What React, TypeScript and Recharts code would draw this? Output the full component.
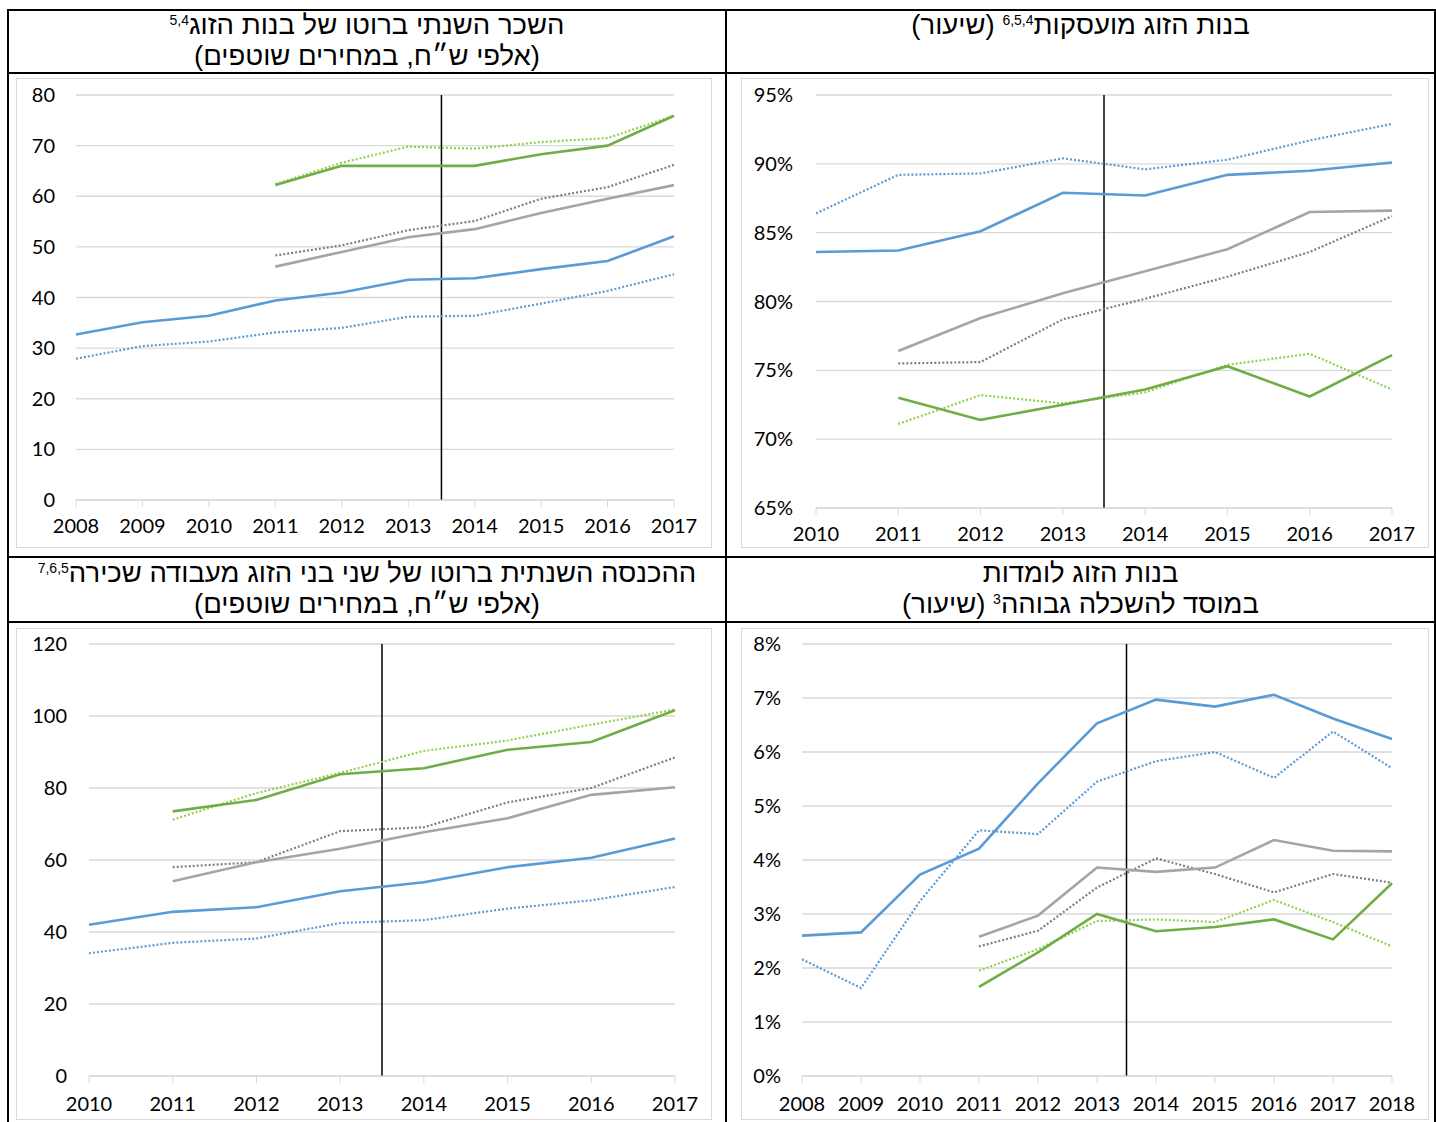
import React from 'react';
import { LineChart, Line, XAxis, YAxis, CartesianGrid, ReferenceLine } from 'recharts';

// colours
const BLUE = '#5B9BD5';
const GREY = '#A5A5A5';
const GREY_DOT = '#7F7F7F';
const GREEN = '#70AD47';
const GREEN_DOT = '#92D050';
const GRID = '#D9D9D9';

// chart 1 – annual gross wage of the wives
const wageYears = [2008, 2009, 2010, 2011, 2012, 2013, 2014, 2015, 2016, 2017];
const wageBlue = [32.7, 35.1, 36.4, 39.4, 41.0, 43.5, 43.8, 45.6, 47.2, 52.1];
const wageBlueDot = [27.9, 30.4, 31.3, 33.1, 34.0, 36.2, 36.4, 38.8, 41.3, 44.6];
const wageGrey = [null, null, null, 46.1, 49.0, 51.9, 53.5, 56.7, 59.5, 62.2];
const wageGreyDot = [null, null, null, 48.3, 50.3, 53.3, 55.1, 59.5, 61.8, 66.2];
const wageGreen = [null, null, null, 62.2, 66.0, 66.0, 66.0, 68.3, 70.0, 75.9];
const wageGreenDot = [null, null, null, 62.4, 66.6, 69.8, 69.4, 70.7, 71.5, 75.9];
const wageTicks = [0, 10, 20, 30, 40, 50, 60, 70, 80];

// chart 2 – employed wives (rate)
const empYears = [2010, 2011, 2012, 2013, 2014, 2015, 2016, 2017];
const empBlue = [83.6, 83.7, 85.1, 87.9, 87.7, 89.2, 89.5, 90.1];
const empBlueDot = [86.4, 89.2, 89.3, 90.4, 89.6, 90.3, 91.7, 92.9];
const empGrey = [null, 76.4, 78.8, 80.6, 82.2, 83.8, 86.5, 86.6];
const empGreyDot = [null, 75.5, 75.6, 78.7, 80.2, 81.8, 83.6, 86.2];
const empGreen = [null, 73.0, 71.4, 72.5, 73.6, 75.3, 73.1, 76.1];
const empGreenDot = [null, 71.1, 73.2, 72.6, 73.4, 75.4, 76.2, 73.6];
const empTicks = [65, 70, 75, 80, 85, 90, 95];

// chart 3 – household income from wages
const incYears = [2010, 2011, 2012, 2013, 2014, 2015, 2016, 2017];
const incBlue = [42.0, 45.6, 46.9, 51.3, 53.8, 58.0, 60.6, 66.0];
const incBlueDot = [34.1, 37.0, 38.2, 42.5, 43.3, 46.5, 48.8, 52.5];
const incGrey = [null, 54.1, 59.4, 63.1, 67.7, 71.6, 78.1, 80.2];
const incGreyDot = [null, 58.0, 59.4, 68.0, 69.1, 76.0, 80.0, 88.5];
const incGreen = [null, 73.5, 76.7, 83.8, 85.5, 90.6, 92.8, 101.6];
const incGreenDot = [null, 71.2, 78.6, 84.2, 90.3, 93.2, 97.6, 101.8];
const incTicks = [0, 20, 40, 60, 80, 100, 120];

// chart 4 – wives studying in higher education (rate)
const stuYears = [2008, 2009, 2010, 2011, 2012, 2013, 2014, 2015, 2016, 2017, 2018];
const stuBlue = [2.6, 2.66, 3.73, 4.21, 5.42, 6.53, 6.97, 6.84, 7.06, 6.62, 6.24];
const stuBlueDot = [2.16, 1.63, 3.24, 4.55, 4.48, 5.45, 5.83, 6.0, 5.52, 6.38, 5.7];
const stuGrey = [null, null, null, 2.58, 2.97, 3.86, 3.78, 3.86, 4.37, 4.17, 4.16];
const stuGreyDot = [null, null, null, 2.4, 2.69, 3.49, 4.03, 3.74, 3.4, 3.74, 3.58];
const stuGreen = [null, null, null, 1.65, 2.29, 3.0, 2.68, 2.76, 2.9, 2.53, 3.57];
const stuGreenDot = [null, null, null, 1.95, 2.35, 2.87, 2.9, 2.85, 3.26, 2.85, 2.4];
const stuTicks = [0, 1, 2, 3, 4, 5, 6, 7, 8];

const buildRows = (years: number[], cols: (number | null)[][]) =>
  years.map((year, i) => ({
    year,
    blue: cols[0][i],
    blueDot: cols[1][i],
    grey: cols[2][i],
    greyDot: cols[3][i],
    green: cols[4][i],
    greenDot: cols[5][i],
  }));

const SERIES = [
  { key: 'blueDot', color: BLUE, dotted: true },
  { key: 'blue', color: BLUE, dotted: false },
  { key: 'greyDot', color: GREY_DOT, dotted: true },
  { key: 'grey', color: GREY, dotted: false },
  { key: 'greenDot', color: GREEN_DOT, dotted: true },
  { key: 'green', color: GREEN, dotted: false },
];

const TICK_FONT = { fill: '#000', fontSize: 20, fontFamily: 'Lato, "Open Sans", sans-serif' };

interface PanelProps {
  left: number;
  top: number;
  width: number;
  height: number;
  plot: { left: number; top: number; right: number; bottom: number };
  yGap: number;
  xGap: number;
  data: any[];
  years: number[];
  yTicks: number[];
  unit?: string;
}

function Panel({ left, top, width, height, plot, yGap, xGap, data, years, yTicks, unit = '' }: PanelProps) {
  return (
    <div style={{ position: 'absolute', left, top, width, height }}>
      <div
        style={{
          position: 'absolute',
          inset: 0,
          border: `1px solid ${GRID}`,
          boxSizing: 'border-box',
        }}
      />
      <LineChart
        width={width}
        height={height}
        data={data}
        margin={{ top: plot.top, right: plot.right, bottom: 0, left: 0 }}
      >
        <CartesianGrid vertical={false} stroke={GRID} strokeWidth={1.3} />
        <XAxis
          type="number"
          dataKey="year"
          domain={[years[0], years[years.length - 1]]}
          ticks={years}
          interval={0}
          height={plot.bottom}
          stroke={GRID}
          tickSize={7}
          tickMargin={xGap}
          tick={TICK_FONT}
        />
        <YAxis
          type="number"
          domain={[yTicks[0], yTicks[yTicks.length - 1]]}
          ticks={yTicks}
          width={plot.left}
          axisLine={false}
          tickLine={false}
          tickSize={0}
          tickMargin={yGap}
          tick={TICK_FONT}
          tickFormatter={(v) => `${v}${unit}`}
        />
        <ReferenceLine x={2013.5} stroke="#000" strokeWidth={1.5} />
        {SERIES.map((s) => (
          <Line
            key={s.key}
            type="linear"
            dataKey={s.key}
            stroke={s.color}
            strokeWidth={s.dotted ? 2.2 : 2.6}
            strokeDasharray={s.dotted ? '2 2' : undefined}
            dot={false}
            activeDot={false}
            connectNulls={false}
            isAnimationActive={false}
          />
        ))}
      </LineChart>
    </div>
  );
}

const HEAD_FONT = '"Liberation Sans", Arial, sans-serif';
const supStyle: React.CSSProperties = { fontSize: 14, verticalAlign: 'top', lineHeight: '22px' };

function Header({ left, top, width, lines }: { left: number; top: number; width: number; lines: React.ReactNode[] }) {
  return (
    <div
      style={{
        position: 'absolute',
        left,
        top,
        width,
        direction: 'rtl',
        textAlign: 'center',
        fontFamily: HEAD_FONT,
        fontSize: 27.5,
        lineHeight: '31px',
        color: '#000',
        whiteSpace: 'nowrap',
      }}
    >
      {lines.map((l, i) => (
        <div key={i}>{l}</div>
      ))}
    </div>
  );
}

function Rule({ x, y, w, h }: { x: number; y: number; w: number; h: number }) {
  return <div style={{ position: 'absolute', left: x, top: y, width: w, height: h, background: '#000' }} />;
}

export default function App() {
  const wageData = buildRows(wageYears, [wageBlue, wageBlueDot, wageGrey, wageGreyDot, wageGreen, wageGreenDot]);
  const empData = buildRows(empYears, [empBlue, empBlueDot, empGrey, empGreyDot, empGreen, empGreenDot]);
  const incData = buildRows(incYears, [incBlue, incBlueDot, incGrey, incGreyDot, incGreen, incGreenDot]);
  const stuData = buildRows(stuYears, [stuBlue, stuBlueDot, stuGrey, stuGreyDot, stuGreen, stuGreenDot]);

  return (
    <div style={{ position: 'absolute', left: 0, top: 0, width: 1436, height: 1122, background: '#fff', overflow: 'hidden' }}>
      {/* table rules */}
      <Rule x={7} y={9} w={1429} h={2} />
      <Rule x={7} y={72} w={1429} h={2} />
      <Rule x={7} y={556} w={1429} h={2} />
      <Rule x={7} y={621} w={1429} h={2} />
      <Rule x={7} y={9} w={2} h={1113} />
      <Rule x={725} y={9} w={2} h={1113} />
      <Rule x={1434} y={9} w={2} h={1113} />

      <Header
        left={9}
        top={9}
        width={716}
        lines={[
          <>השכר השנתי ברוטו של בנות הזוג<sup style={supStyle}>5,4</sup></>,
          <>(אלפי ש״ח, במחירים שוטפים)</>,
        ]}
      />
      <Header
        left={727}
        top={9}
        width={707}
        lines={[<>בנות הזוג מועסקות<sup style={supStyle}>6,5,4</sup> (שיעור)</>]}
      />
      <Header
        left={9}
        top={557}
        width={716}
        lines={[
          <>ההכנסה השנתית ברוטו של שני בני הזוג מעבודה שכירה<sup style={supStyle}>7,6,5</sup></>,
          <>(אלפי ש״ח, במחירים שוטפים)</>,
        ]}
      />
      <Header
        left={727}
        top={557}
        width={707}
        lines={[<>בנות הזוג לומדות</>, <>במוסד להשכלה גבוהה<sup style={supStyle}>3</sup> (שיעור)</>]}
      />

      <Panel
        left={16}
        top={78}
        width={696}
        height={470}
        plot={{ left: 60, top: 17, right: 38, bottom: 48 }}
        yGap={21}
        xGap={12}
        data={wageData}
        years={wageYears}
        yTicks={wageTicks}
      />
      <Panel
        left={741}
        top={78}
        width={688}
        height={470}
        plot={{ left: 75, top: 17, right: 37, bottom: 40 }}
        yGap={23}
        xGap={12}
        data={empData}
        years={empYears}
        yTicks={empTicks}
        unit="%"
      />
      <Panel
        left={16}
        top={628}
        width={696}
        height={492}
        plot={{ left: 73, top: 16, right: 37, bottom: 44 }}
        yGap={22}
        xGap={14}
        data={incData}
        years={incYears}
        yTicks={incTicks}
      />
      <Panel
        left={741}
        top={628}
        width={688}
        height={492}
        plot={{ left: 61, top: 16, right: 37, bottom: 44 }}
        yGap={21}
        xGap={14}
        data={stuData}
        years={stuYears}
        yTicks={stuTicks}
        unit="%"
      />
    </div>
  );
}
